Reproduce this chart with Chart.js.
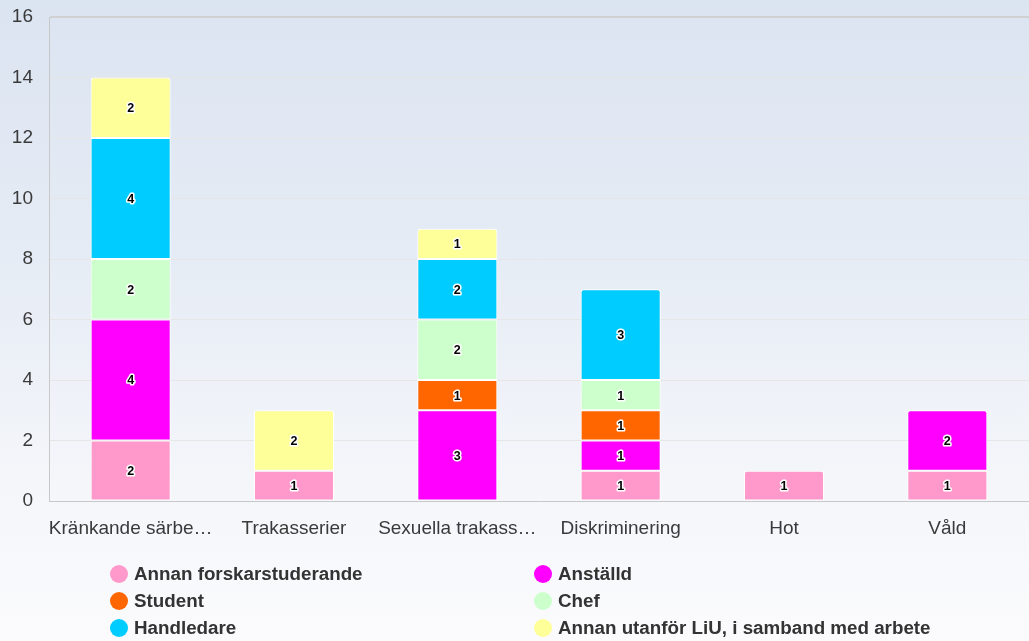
<!DOCTYPE html>
<html>
<head>
<meta charset="utf-8">
<script src="https://cdn.jsdelivr.net/npm/chart.js@4/dist/chart.umd.min.js"></script>
<style>
  html, body { margin: 0; padding: 0; }
  body {
    width: 1029px; height: 641px; overflow: hidden; position: relative;
    background: linear-gradient(to bottom, #dbe4f1 0%, #e6ecf5 40%, #f4f6fa 75%, #fbfbfd 100%);
    font-family: "Liberation Sans", Arial, sans-serif;
  }
  #wrap { position: absolute; left: 0; top: 0; width: 1029px; height: 641px; }
  #legend { position: absolute; left: 0; top: 563px; width: 1029px; }
  .item { position: absolute; height: 22px; display: flex; align-items: center;
          font-weight: bold; font-size: 18.8px; color: #333; white-space: nowrap; }
  .dot { width: 18px; height: 18px; border-radius: 50%; margin-right: 6px; flex: none; }
</style>
</head>
<body>
<div id="wrap"><canvas id="chart" width="1029" height="641"></canvas></div>
<div id="legend"></div>
<script>
// categories (x axis labels as shown)
const categories = ['Kränkande särbe…', 'Trakasserier', 'Sexuella trakass…', 'Diskriminering', 'Hot', 'Våld'];

// series, bottom to top
const seriesNames = ['Annan forskarstuderande', 'Anställd', 'Student', 'Chef', 'Handledare', 'Annan utanför LiU, i samband med arbete'];
const seriesColors = ['#ff99cc', '#ff00ff', '#ff6600', '#ccffcc', '#00ccff', '#ffff99'];

const annanForskarstuderande = [2, 1, 0, 1, 1, 1];
const anstalld               = [4, 0, 3, 1, 0, 2];
const student                = [0, 0, 1, 1, 0, 0];
const chef                   = [2, 0, 2, 1, 0, 0];
const handledare             = [4, 0, 2, 3, 0, 0];
const annanUtanfor           = [2, 2, 1, 0, 0, 0];

const seriesValues = [annanForskarstuderande, anstalld, student, chef, handledare, annanUtanfor];

// y axis ticks
const yMin = 0, yMax = 16, yStep = 2;

// index of the top-most non-empty series per category (gets the rounded corners)
const topIndex = categories.map((c, i) => {
  let top = -1;
  seriesValues.forEach((vals, s) => { if (vals[i] > 0) top = s; });
  return top;
});

const datasets = seriesNames.map((name, s) => ({
  label: name,
  data: seriesValues[s].map(v => v === 0 ? null : v),
  backgroundColor: seriesColors[s],
  borderColor: '#ffffff',
  borderWidth: 1,
  borderSkipped: false,
  borderRadius: ctx => topIndex[ctx.dataIndex] === s
    ? { topLeft: 3, topRight: 3, bottomLeft: 0, bottomRight: 0 } : 0,
  categoryPercentage: 1,
  barPercentage: 0.49
}));

// value labels inside each segment
const valueLabels = {
  id: 'valueLabels',
  afterDatasetsDraw(chart) {
    const ctx = chart.ctx;
    ctx.save();
    ctx.font = 'bold 12.5px "Liberation Sans", Arial, sans-serif';
    ctx.textAlign = 'center';
    ctx.textBaseline = 'middle';
    ctx.lineJoin = 'round';
    chart.data.datasets.forEach((ds, s) => {
      const meta = chart.getDatasetMeta(s);
      meta.data.forEach((el, i) => {
        const v = ds.data[i];
        if (!v) return;
        const y = (el.y + el.base) / 2 + 1;
        ctx.strokeStyle = '#ffffff';
        ctx.lineWidth = 3;
        ctx.strokeText(String(v), el.x, y);
        ctx.fillStyle = '#000000';
        ctx.fillText(String(v), el.x, y);
      });
    });
    ctx.restore();
  }
};

new Chart(document.getElementById('chart'), {
  type: 'bar',
  data: { labels: categories, datasets: datasets },
  options: {
    responsive: false,
    animation: false,
    layout: { padding: { top: 17, right: 0, bottom: 0, left: 0 } },
    plugins: {
      legend: { display: false },
      tooltip: { enabled: false }
    },
    scales: {
      x: {
        stacked: true,
        grid: { display: false, drawTicks: false },
        border: { display: true, color: '#c8c8c8', width: 1 },
        ticks: {
          color: '#3a3a3a', padding: 16, maxRotation: 0, autoSkip: false,
          font: { family: '"Liberation Sans", Arial, sans-serif', size: 19 }
        },
        afterFit(scale) { scale.height = 140; }
      },
      y: {
        stacked: true,
        min: yMin, max: yMax,
        grid: {
          drawTicks: true,
          tickLength: 14,
          tickColor: 'rgba(0,0,0,0)',
          color: ctx => ctx.tick && ctx.tick.value === yMax ? '#d0d0d0' : '#e6e6e6',
          lineWidth: ctx => ctx.tick && ctx.tick.value === yMax ? 2 : 1
        },
        border: { display: true, color: '#c8c8c8', width: 1 },
        ticks: {
          stepSize: yStep, color: '#3a3a3a', padding: 2,
          font: { family: '"Liberation Sans", Arial, sans-serif', size: 19 }
        },
        afterFit(scale) { scale.width = 49; }
      }
    }
  },
  plugins: [valueLabels]
});

// two-column legend under the chart
const legendEl = document.getElementById('legend');
const colLeft = [110, 534];
const rowTop = [0, 27, 54];
seriesNames.forEach((name, s) => {
  const item = document.createElement('div');
  item.className = 'item';
  item.style.left = colLeft[s % 2] + 'px';
  item.style.top = rowTop[Math.floor(s / 2)] + 'px';
  const dot = document.createElement('span');
  dot.className = 'dot';
  dot.style.background = seriesColors[s];
  const txt = document.createElement('span');
  txt.textContent = name;
  item.appendChild(dot);
  item.appendChild(txt);
  legendEl.appendChild(item);
});
</script>
</body>
</html>
